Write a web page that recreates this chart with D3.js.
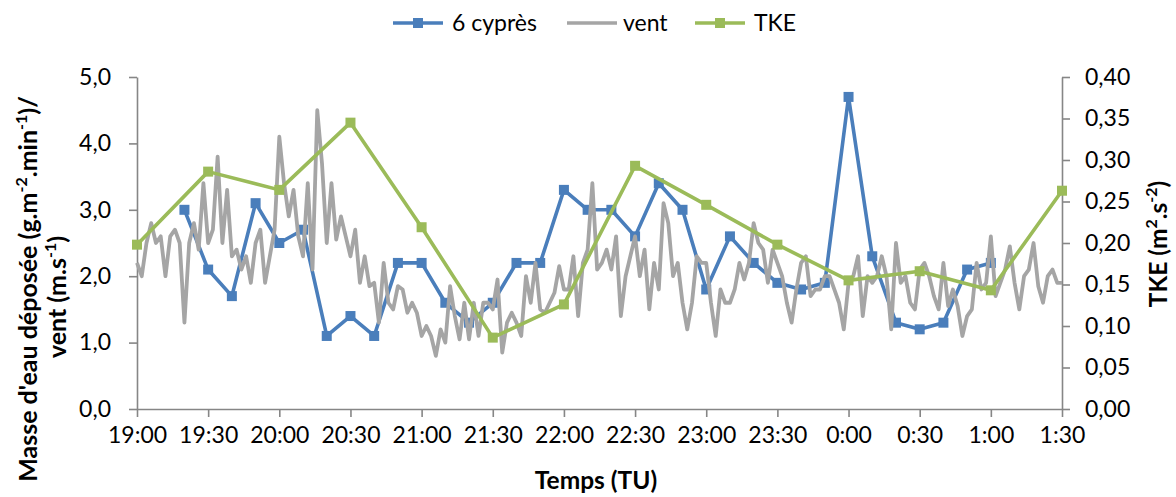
<!DOCTYPE html>
<html><head><meta charset="utf-8">
<script src="https://cdn.jsdelivr.net/npm/d3@7"></script>
<style>
body{margin:0;background:#fff}
svg{display:block}
text{font-family:Lato,"Open Sans",sans-serif;fill:#000}
</style>
</head><body>
<svg id="chart" width="1176" height="497"></svg>
<script>
// ---------- DATA ----------
const xTickMinutes = [0,30,60,90,120,150,180,210,240,270,300,330,360,390]; // minutes after 19:00
const xTickLabels = ["19:00","19:30","20:00","20:30","21:00","21:30","22:00","22:30","23:00","23:30","0:00","0:30","1:00","1:30"];
const leftTicks = [0,1,2,3,4,5];
const rightTicks = [0,0.05,0.10,0.15,0.20,0.25,0.30,0.35,0.40];

const cypresTimes = [20,30,40,50,60,70,80,90,100,110,120,130,140,150,160,170,180,190,200,210,220,230,240,250,260,270,280,290,300,310,320,330,340,350,360];
const cypresValues = [3.0,2.1,1.7,3.1,2.5,2.7,1.1,1.4,1.1,2.2,2.2,1.6,1.3,1.6,2.2,2.2,3.3,3.0,3.0,2.6,3.4,3.0,1.8,2.6,2.2,1.9,1.8,1.9,4.7,2.3,1.3,1.2,1.3,2.1,2.2];

const tkeTimes = [0,30,60,90,120,150,180,210,240,270,300,330,360,390];
const tkeValues = [0.198,0.286,0.264,0.345,0.219,0.086,0.126,0.293,0.246,0.198,0.155,0.166,0.143,0.263];

const ventStepMinutes = 2;
const ventValues = [
2.2,2.0,2.5,2.8,2.5,2.6,2.0,2.6,2.7,2.5,
1.3,2.5,2.8,2.4,3.4,2.5,2.7,3.8,2.5,3.3,
2.3,2.4,2.1,2.3,1.9,2.5,2.7,1.9,2.3,2.7,
4.1,3.4,2.9,3.3,2.6,2.3,3.4,2.1,4.5,3.7,
2.5,3.4,2.55,2.9,2.6,2.3,2.7,1.9,2.3,1.85,
1.9,1.3,2.2,1.6,1.5,1.85,1.8,1.45,1.6,1.45,
1.1,1.25,1.1,0.8,1.2,1.0,1.85,1.4,1.05,1.6,
1.05,1.6,1.1,1.6,1.6,1.5,1.95,0.85,1.3,1.45,
1.3,1.1,2.0,1.6,2.2,1.5,1.45,1.6,1.75,2.15,
1.8,1.8,2.3,1.4,2.2,2.4,3.4,2.1,2.2,2.4,
2.1,2.6,1.4,2.0,2.3,2.6,2.0,2.4,1.5,2.2,
1.8,3.1,2.8,2.0,2.2,1.6,1.2,1.6,2.3,2.2,
2.2,1.6,1.1,1.8,1.6,1.6,1.8,2.2,1.95,2.2,
2.8,2.5,2.4,1.9,2.4,2.2,2.0,1.6,1.3,1.8,
2.2,2.3,1.7,1.8,1.8,2.0,2.0,1.8,1.6,1.2,
1.9,2.0,2.3,1.4,2.0,1.9,2.0,2.3,2.0,1.2,
2.5,1.9,2.0,1.6,1.5,2.1,2.2,2.0,1.7,1.5,
2.2,1.55,1.8,1.55,1.1,1.4,1.5,2.2,1.8,1.9,
2.6,1.7,1.9,2.1,2.45,1.9,1.5,2.0,2.1,2.5,
1.85,1.6,2.0,2.1,1.9,1.9
];

const seriesNames = ["6 cyprès","vent","TKE"];
const seriesColors = ["#4a7ebb","#a5a5a5","#9bbb59"];

// ---------- CHART ----------
const svg = d3.select("#chart");
const x = d3.scaleLinear().domain([0,390]).range([137,1062]);
const yL = d3.scaleLinear().domain([0,5]).range([409,77]);
const yR = d3.scaleLinear().domain([0,0.4]).range([409,77]);
const axisColor = "#868686";
const FS = 23;
const TFS = 25;

function styleAxis(g){
  g.select(".domain").attr("stroke",axisColor).attr("stroke-width",1.6);
  g.selectAll(".tick line").attr("stroke",axisColor).attr("stroke-width",1.6);
  g.selectAll(".tick text").attr("font-size",FS).attr("font-family","Lato, sans-serif").attr("fill","#000");
}

svg.append("g").attr("transform","translate(0,409)")
  .call(d3.axisBottom(x).tickValues(xTickMinutes).tickFormat((d,i)=>xTickLabels[i]).tickSize(8).tickSizeOuter(0).tickPadding(10))
  .call(styleAxis);

svg.append("g").attr("transform","translate(137,0)")
  .call(d3.axisLeft(yL).tickValues(leftTicks).tickFormat(d=>d.toFixed(1).replace(".",",")).tickSize(8).tickSizeOuter(0).tickPadding(18))
  .call(styleAxis);

svg.append("g").attr("transform","translate(1062,0)")
  .call(d3.axisRight(yR).tickValues(rightTicks).tickFormat(d=>d.toFixed(2).replace(".",",")).tickSize(8).tickSizeOuter(0).tickPadding(15))
  .call(styleAxis);

// lines
const cyp = cypresTimes.map((t,i)=>({t, v:cypresValues[i]}));
const vent = ventValues.map((v,i)=>({t:i*ventStepMinutes, v}));
const tke = tkeTimes.map((t,i)=>({t, v:tkeValues[i]}));

const lineL = d3.line().x(d=>x(d.t)).y(d=>yL(d.v));
const lineR = d3.line().x(d=>x(d.t)).y(d=>yR(d.v));
const MS = 10;

svg.append("path").datum(cyp).attr("d",lineL).attr("fill","none")
  .attr("stroke",seriesColors[0]).attr("stroke-width",3.6).attr("stroke-linejoin","round");
svg.append("g").selectAll("rect").data(cyp).join("rect")
  .attr("x",d=>x(d.t)-MS/2).attr("y",d=>yL(d.v)-MS/2).attr("width",MS).attr("height",MS)
  .attr("fill",seriesColors[0]);

svg.append("path").datum(vent).attr("d",lineL).attr("fill","none")
  .attr("stroke",seriesColors[1]).attr("stroke-width",3.8).attr("stroke-linejoin","round");

svg.append("path").datum(tke).attr("d",lineR).attr("fill","none")
  .attr("stroke",seriesColors[2]).attr("stroke-width",3.6).attr("stroke-linejoin","round");
svg.append("g").selectAll("rect").data(tke).join("rect")
  .attr("x",d=>x(d.t)-MS/2).attr("y",d=>yR(d.v)-MS/2).attr("width",MS).attr("height",MS)
  .attr("fill",seriesColors[2]);

// legend
const legendX = [393,567,695];
const legendMarker = [true,false,true];
const leg = svg.append("g");
seriesNames.forEach((name,i)=>{
  const g = leg.append("g").attr("transform",`translate(${legendX[i]},23)`);
  g.append("line").attr("x1",0).attr("x2",50).attr("y1",0).attr("y2",0)
    .attr("stroke",seriesColors[i]).attr("stroke-width",3.6);
  if(legendMarker[i]) g.append("rect").attr("x",25-MS/2).attr("y",-MS/2).attr("width",MS).attr("height",MS).attr("fill",seriesColors[i]);
  g.append("text").attr("x",i===1?56:59).attr("y",0).attr("dy","0.35em").attr("font-size",FS).text(name);
});

// axis titles
svg.append("text").attr("x",596).attr("y",489).attr("text-anchor","middle")
  .attr("font-size",24.5).attr("font-weight","bold").text("Temps (TU)");

const SUP = 16, DY = 10;
const lt = svg.append("text").attr("transform","translate(37,289) rotate(-90)")
  .attr("text-anchor","middle").attr("font-size",TFS).attr("font-weight","bold");
const l1 = lt.append("tspan").attr("x",0).attr("y",0);
l1.append("tspan").text("Masse d'eau déposée (g.m");
l1.append("tspan").attr("font-size",SUP).attr("dy",-DY).text("-2");
l1.append("tspan").attr("dy",DY).text(".min");
l1.append("tspan").attr("font-size",SUP).attr("dy",-DY).text("-1");
l1.append("tspan").attr("dy",DY).text(")/");
const l2 = lt.append("tspan").attr("x",-8).attr("y",29);
l2.append("tspan").text("vent (m.s");
l2.append("tspan").attr("font-size",SUP).attr("dy",-DY).text("-1");
l2.append("tspan").attr("dy",DY).text(")");

const rt = svg.append("text").attr("transform","translate(1167,244) rotate(-90)")
  .attr("text-anchor","middle").attr("font-size",24.5).attr("font-weight","bold");
rt.append("tspan").text("TKE (m");
rt.append("tspan").attr("font-size",SUP).attr("dy",-DY).text("2");
rt.append("tspan").attr("dy",DY).text(".s");
rt.append("tspan").attr("font-size",SUP).attr("dy",-DY).text("-2");
rt.append("tspan").attr("dy",DY).text(")");
</script>
</body></html>
